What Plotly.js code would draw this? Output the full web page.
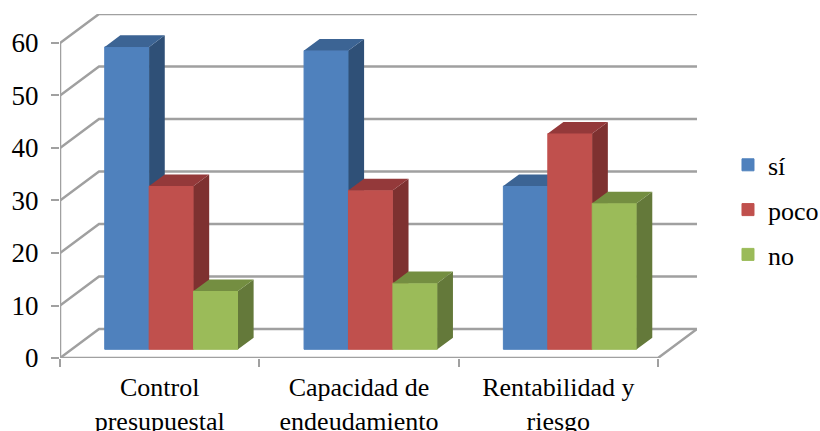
<!DOCTYPE html>
<html><head><meta charset="utf-8">
<script src="https://cdn.plot.ly/plotly-3.0.1.min.js"></script>
<style>html,body{margin:0;padding:0;background:#fff}#c{width:820px;height:431px}</style>
</head><body><div id="c"></div>
<script>
const categories = ['Control<br>presupuestal','Capacidad de<br>endeudamiento','Rentabilidad y<br>riesgo'];
const seriesNames = ['sí','poco','no'];
const siValues = [57.6, 56.9, 31.1];
const pocoValues = [31.1, 30.3, 41.1];
const noValues = [11.1, 12.6, 27.8];
const frontColors = ['#4F81BD','#C0504D','#9BBB59'];
const topColors = ['#3C6494','#94393A','#748E41'];
const sideColors = ['#2F5077','#7E3130','#64793A'];
const yLevels = [0,10,20,30,40,50,60];

const DX = 0.1957, DY = 5.52, NZ = 0.3, BZ = 0.4, BAR = 0.2229;
const GRID = '#a0a0a0', FONT = '"Liberation Serif", "Times New Roman", serif', FS = 26;
const n = categories.length, yTop = yLevels[yLevels.length-1];
const traces = [];

// back wall, side wall and floor
const wx = [], wy = [];
yLevels.forEach(v => { wx.push(0, DX, n+DX, null); wy.push(v, v+DY, v+DY, null); });
wx.push(0, 0, null, 0, n, n+DX); wy.push(0, yTop, null, 0, 0, DY);
traces.push({type:'scatter',mode:'lines',x:wx,y:wy,line:{color:GRID,width:2.5},cliponaxis:false,showlegend:false,hoverinfo:'skip'});

[siValues,pocoValues,noValues].forEach((vals,s) => {
  const ax = s+2;
  const xs = vals.map((_,i) => i + 0.5 + NZ*DX + (s-1)*BAR);
  const base = NZ*DY, dx = BZ*DX, dy = BZ*DY;
  traces.push({type:'bar',name:seriesNames[s],x:xs,y:vals,base:base,width:BAR,
    xaxis:'x'+ax,yaxis:'y'+ax,marker:{color:frontColors[s],line:{color:frontColors[s],width:1}},
    legendgroup:seriesNames[s]});
  const sx=[],sy=[],tx=[],ty=[];
  vals.forEach((v,i) => {
    const xl = xs[i]-BAR/2, xr = xs[i]+BAR/2, t = base+v;
    sx.push(xr,xr+dx,xr+dx,xr,xr,null); sy.push(base,base+dy,t+dy,t,base,null);
    tx.push(xl,xl+dx,xr+dx,xr,xl,null); ty.push(t,t+dy,t+dy,t,t,null);
  });
  [[sx,sy,sideColors[s]],[tx,ty,topColors[s]]].forEach(f => traces.push({type:'scatter',mode:'lines',x:f[0],y:f[1],
    fill:'toself',fillcolor:f[2],line:{width:0,color:f[2]},xaxis:'x'+ax,yaxis:'y'+ax,showlegend:false,hoverinfo:'skip'}));
});

const xr = [0,n+DX], yr = [0,yTop+DY];
const layout = {
  width:820,height:431,paper_bgcolor:'#fff',plot_bgcolor:'rgba(0,0,0,0)',
  margin:{l:60,r:123,t:14,b:73,pad:0},
  font:{family:FONT,size:FS,color:'#000'},
  showlegend:true,
  legend:{xref:'container',yref:'container',x:0.8878,xanchor:'left',y:0.513,yanchor:'middle',tracegroupgap:8,font:{family:FONT,size:FS,color:'#000'},bgcolor:'rgba(0,0,0,0)'},
  xaxis:{range:xr,showgrid:false,zeroline:false,showline:false,tickmode:'array',
    tickvals:categories.map((_,i)=>i+0.5),ticktext:categories,ticks:'',tickangle:0,ticklabelstandoff:11,
    minor:{tickmode:'array',tickvals:categories.map((_,i)=>i).concat(n),ticks:'outside',ticklen:8,tickwidth:2,tickcolor:GRID,showgrid:false}},
  yaxis:{range:yr,showgrid:false,zeroline:false,showline:false,tickmode:'array',tickvals:yLevels,
    tickfont:{family:FONT,size:27,color:'#000'},ticks:'outside',ticklen:8,tickwidth:2,tickcolor:GRID,ticklabelstandoff:7}
};
[2,3,4].forEach(a => {
  layout['xaxis'+a] = {overlaying:'x',range:xr,visible:false};
  layout['yaxis'+a] = {overlaying:'y',range:yr,visible:false};
});
Plotly.newPlot('c',traces,layout,{displayModeBar:false,staticPlot:true});
</script></body></html>
